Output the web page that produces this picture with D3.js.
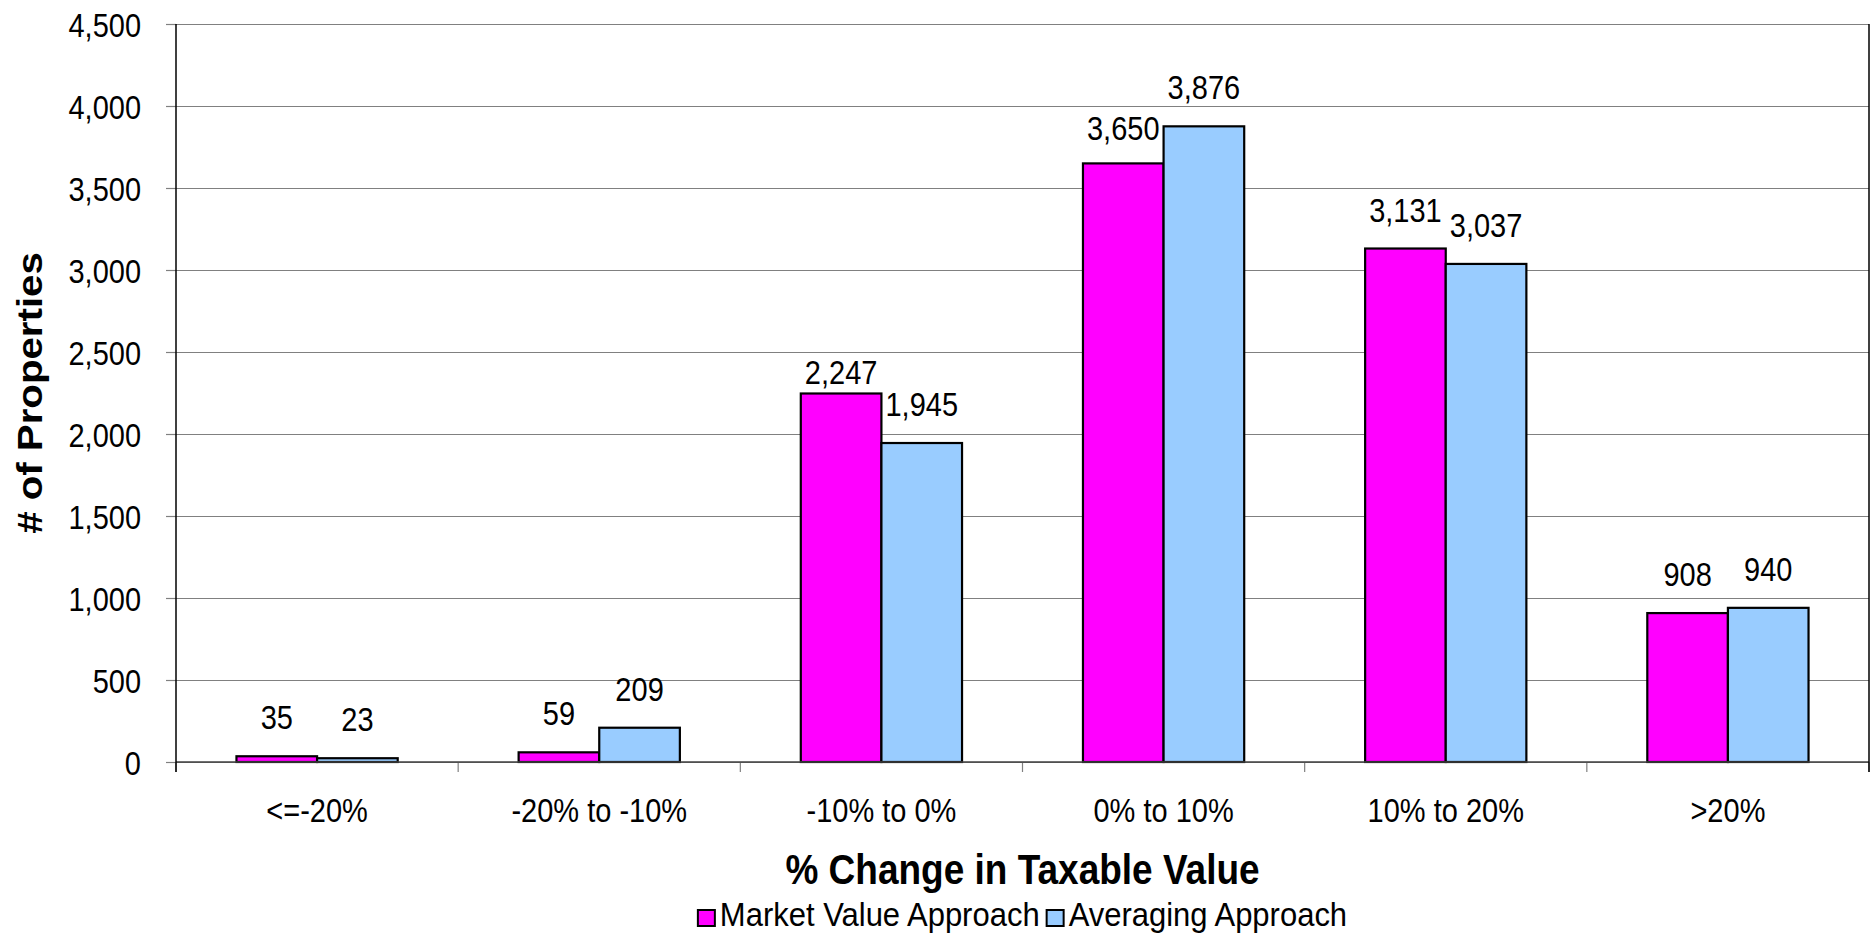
<!DOCTYPE html>
<html lang="en">
<head>
    <meta charset="UTF-8">
    <title>% Change in Taxable Value</title>
    <script src="https://d3js.org/d3.v7.min.js"></script>
    <style>
        body {
            margin: 0;
            background: #fff;
        }
        text {
            font-family: Arial, "Liberation Sans", sans-serif;
            fill: #000;
        }
        .grid line {
            stroke: #808080;
            stroke-width: 1.2;
        }
        .grid .domain {
            display: none;
        }
        .bar {
            stroke: #000;
            stroke-width: 2.2;
        }
    </style>
</head>
<body>
    <div id="chart"></div>
    <script>
        // data
        const categories = ["<=-20%", "-20% to -10%", "-10% to 0%", "0% to 10%", "10% to 20%", ">20%"];
        const seriesNames = ["Market Value Approach", "Averaging Approach"];
        const marketValues = [35, 59, 2247, 3650, 3131, 908];
        const averagingValues = [23, 209, 1945, 3876, 3037, 940];
        const yTicks = [0, 500, 1000, 1500, 2000, 2500, 3000, 3500, 4000, 4500];
        const colors = ["#FF00FF", "#99CCFF"];

        const width = 1872;
        const height = 934;
        const margin = {top: 24, right: 3, bottom: 172, left: 176};
        const S = 1.15; // the original picture is stretched a bit vertically

        const svg = d3.select("#chart")
            .append("svg")
            .attr("width", width)
            .attr("height", height);

        const plotW = width - margin.left - margin.right;
        const plotH = height - margin.top - margin.bottom;

        const g = svg.append("g")
            .attr("transform", `translate(${margin.left},${margin.top})`);

        const x0 = d3.scaleBand()
            .domain(categories)
            .range([0, plotW])
            .padding(0);

        const x1 = d3.scaleBand()
            .domain([0, 1])
            .range([0, x0.bandwidth()])
            .paddingInner(0)
            .paddingOuter(0.75);

        const y = d3.scaleLinear()
            .domain([0, 4500])
            .range([plotH, 0]);

        // gridlines
        g.append("g")
            .attr("class", "grid")
            .call(d3.axisLeft(y).tickValues(yTicks).tickSize(-plotW).tickFormat(""));

        // left ticks + labels
        const yAxis = g.append("g")
            .call(d3.axisLeft(y).tickValues(yTicks).tickSize(10).tickPadding(0).tickFormat(d3.format(",")));
        yAxis.select(".domain").remove();
        yAxis.selectAll("line").attr("stroke", "#808080").attr("stroke-width", 1.2);
        yAxis.selectAll("text")
            .attr("x", -35)
            .attr("dy", "0.36em")
            .attr("transform", `scale(1,${S})`)
            .style("font-size", "29px");

        // bottom axis: ticks sit on the category boundaries
        const boundaries = categories.map(c => x0(c)).concat([plotW]);
        g.append("g")
            .selectAll("line")
            .data(boundaries)
            .enter()
            .append("line")
            .attr("x1", d => d)
            .attr("x2", d => d)
            .attr("y1", plotH)
            .attr("y2", plotH + 10)
            .attr("stroke", "#808080")
            .attr("stroke-width", 1.2);

        const xAxis = g.append("g")
            .attr("transform", `translate(0,${plotH})`)
            .call(d3.axisBottom(x0).tickSize(0));
        xAxis.select(".domain").remove();
        xAxis.selectAll("text")
            .attr("y", 60 / S)
            .attr("dy", 0)
            .attr("transform", `scale(1,${S})`)
            .style("font-size", "29px");

        // bars
        const rows = categories.map((c, i) => ({
            cat: c,
            vals: [marketValues[i], averagingValues[i]]
        }));

        const groups = g.selectAll(".cat")
            .data(rows)
            .enter()
            .append("g")
            .attr("class", "cat")
            .attr("transform", d => `translate(${x0(d.cat)},0)`);

        groups.selectAll("rect")
            .data(d => d.vals.map((v, k) => ({v, k, cat: d.cat})))
            .enter()
            .append("rect")
            .attr("class", "bar")
            .attr("x", d => x1(d.k))
            .attr("width", x1.bandwidth())
            .attr("y", d => y(d.v))
            .attr("height", d => plotH - y(d.v))
            .attr("fill", d => colors[d.k]);

        // Excel pushed a couple of labels down a little
        const labelNudge = {"-10% to 0%|0": 18, "0% to 10%|0": 4};

        groups.selectAll(".value")
            .data(d => d.vals.map((v, k) => ({v, k, cat: d.cat})))
            .enter()
            .append("text")
            .attr("class", "value")
            .attr("text-anchor", "middle")
            .attr("transform", d => {
                const nudge = labelNudge[d.cat + "|" + d.k] || 0;
                return `translate(${x1(d.k) + x1.bandwidth() / 2},${y(d.v) - 27 + nudge}) scale(1,${S})`;
            })
            .style("font-size", "29px")
            .text(d => d3.format(",")(d.v));

        // axis lines on top of the bars
        g.append("line")
            .attr("x1", 0).attr("x2", plotW)
            .attr("y1", plotH).attr("y2", plotH)
            .attr("stroke", "#404040").attr("stroke-width", 1.5);
        g.append("line")
            .attr("x1", 0).attr("x2", 0)
            .attr("y1", 0).attr("y2", plotH + 10)
            .attr("stroke", "#000").attr("stroke-width", 1.5);
        g.append("line")
            .attr("x1", plotW).attr("x2", plotW)
            .attr("y1", 0).attr("y2", plotH + 10)
            .attr("stroke", "#000").attr("stroke-width", 1.5);

        // axis titles
        svg.append("text")
            .attr("text-anchor", "middle")
            .attr("transform", `translate(${margin.left + plotW / 2},884) scale(1,${S})`)
            .style("font-size", "37px")
            .style("font-weight", "bold")
            .text("% Change in Taxable Value");

        svg.append("text")
            .attr("text-anchor", "middle")
            .attr("transform", `translate(42,${margin.top + plotH / 2}) scale(1,${S}) rotate(-90)`)
            .style("font-size", "35px")
            .style("font-weight", "bold")
            .text("# of Properties");

        // legend
        const legend = svg.append("g");
        let lx = 0;
        seriesNames.forEach((name, i) => {
            const item = legend.append("g").attr("transform", `translate(${lx},0)`);
            item.append("rect")
                .attr("x", 0)
                .attr("y", -16)
                .attr("width", 17)
                .attr("height", 16)
                .attr("fill", colors[i])
                .attr("stroke", "#000")
                .attr("stroke-width", 2);
            const t = item.append("text")
                .attr("x", 22)
                .attr("y", 0)
                .attr("transform", "scale(1,1.05)")
                .style("font-size", "31px")
                .text(name);
            lx += 22 + t.node().getComputedTextLength() + 7;
        });
        const legendW = lx - 7;
        legend.attr("transform", `translate(${margin.left + plotW / 2 - legendW / 2},926)`);
    </script>
</body>
</html>
